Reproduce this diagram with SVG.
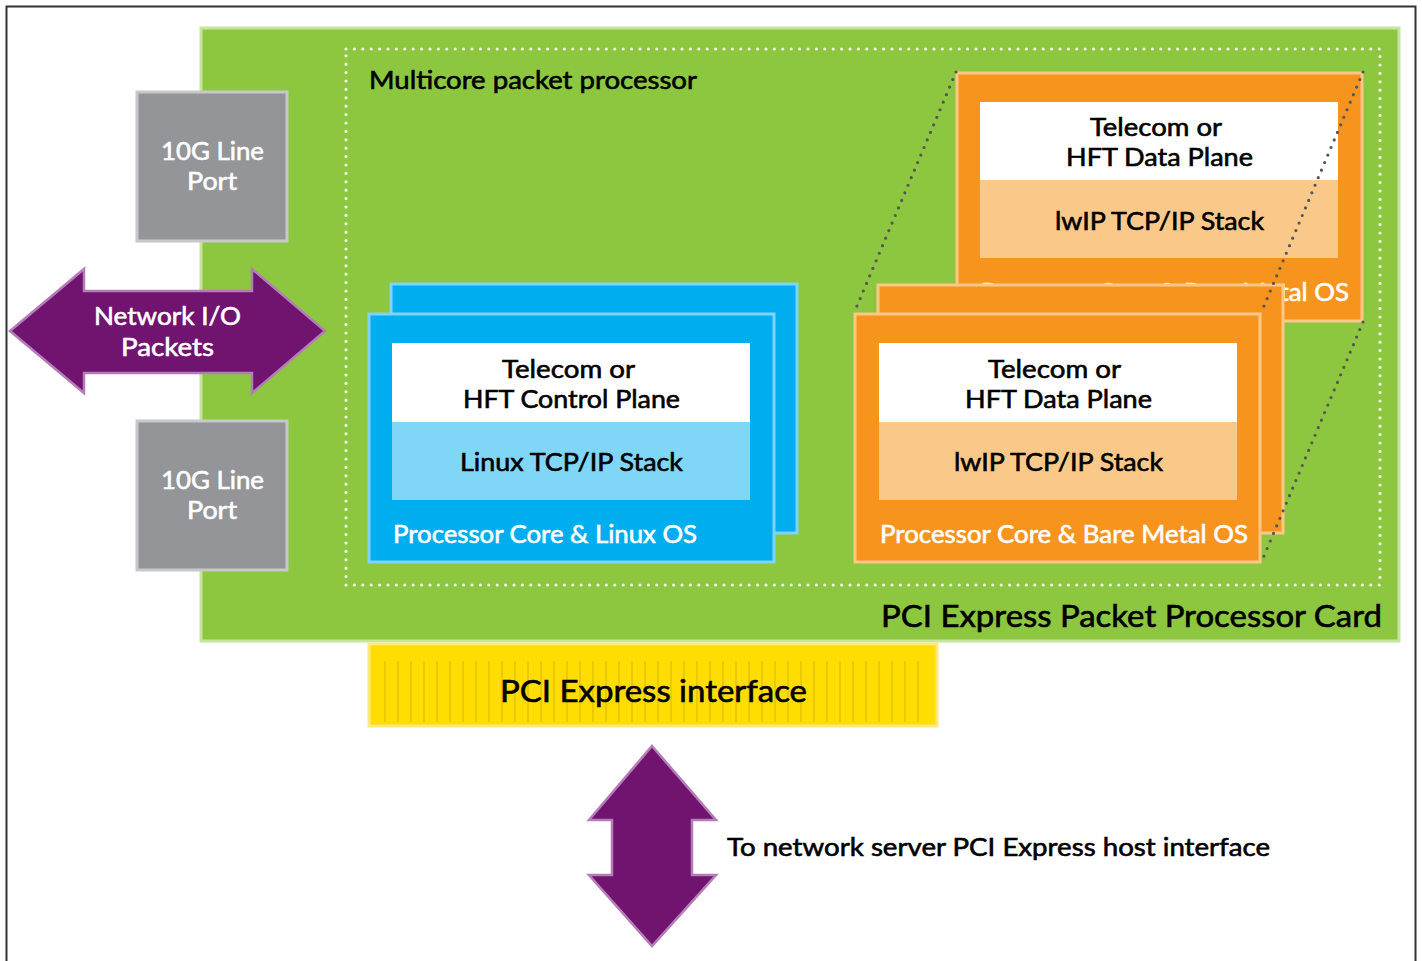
<svg xmlns="http://www.w3.org/2000/svg" width="1422" height="961" viewBox="0 0 1422 961">
<style>
text{font-family:Lato,"Noto Sans","Liberation Sans",sans-serif;font-size:25px;}
.w{fill:#ffffff;stroke:#ffffff;stroke-width:0.6;}
.k{fill:#000000;stroke:#000000;stroke-width:0.6;}
.big{font-size:30px;}
.port{fill:#939598;stroke:#C7C8CA;stroke-width:3;}
.blue{fill:#00AEEF;stroke:#7FD3F7;stroke-width:3;}
.org{fill:#F7941D;stroke:#FDC788;stroke-width:3;}
.arrow{fill:#701470;stroke:#B47DB8;stroke-width:2.5;stroke-linejoin:miter;}
.dots{fill:none;stroke:#55565A;stroke-width:3.2;stroke-linecap:round;stroke-dasharray:0 8.2;}
.wdots{fill:none;stroke:#EEF6E4;stroke-width:3.2;stroke-linecap:round;stroke-dasharray:0 8.4;}
.stripe{stroke:#EBC900;stroke-width:2;}
</style>
<rect x="0" y="0" width="1422" height="961" fill="#ffffff"/>
<path d="M6.5,961 V6.5 H1415.5 V961" fill="none" stroke="#333333" stroke-width="2"/>

<g id="card">
<rect x="201" y="28" width="1198" height="613" fill="#8DC63F" stroke="#C6E3A0" stroke-width="3"/>
<text x="881" y="627" class="k big" textLength="501" lengthAdjust="spacingAndGlyphs">PCI Express Packet Processor Card</text>
</g>

<g id="multicore">
<rect x="346" y="49" width="1034" height="536" class="wdots"/>
<text x="369" y="89" class="k" textLength="328" lengthAdjust="spacingAndGlyphs">Multicore packet processor</text>
</g>

<g id="port1">
<rect x="137" y="92" width="150" height="149" class="port"/>
<text x="161" y="160" class="w" textLength="103" lengthAdjust="spacingAndGlyphs">10G Line</text>
<text x="187" y="190" class="w" textLength="50" lengthAdjust="spacingAndGlyphs">Port</text>
</g>

<g id="port2">
<rect x="137" y="421" width="150" height="149" class="port"/>
<text x="161" y="489" class="w" textLength="103" lengthAdjust="spacingAndGlyphs">10G Line</text>
<text x="187" y="519" class="w" textLength="50" lengthAdjust="spacingAndGlyphs">Port</text>
</g>

<g id="network-io">
<polygon class="arrow" points="10,331 84,269 84,291 252,291 252,269 325,331 252,393 252,373 84,373 84,393"/>
<text x="94" y="325" class="w" textLength="147" lengthAdjust="spacingAndGlyphs">Network I/O</text>
<text x="121" y="356" class="w" textLength="93" lengthAdjust="spacingAndGlyphs">Packets</text>
</g>

<g id="linux-core">
<rect x="391" y="284" width="406" height="249" class="blue"/>
<rect x="369" y="314" width="405" height="248" class="blue"/>
<rect x="392" y="343" width="358" height="79" fill="#ffffff"/>
<rect x="392" y="422" width="358" height="78" fill="#80D6F7"/>
<text x="502" y="378" class="k" textLength="133" lengthAdjust="spacingAndGlyphs">Telecom or</text>
<text x="463" y="408" class="k" textLength="217" lengthAdjust="spacingAndGlyphs">HFT Control Plane</text>
<text x="460" y="471" class="k" textLength="223" lengthAdjust="spacingAndGlyphs">Linux TCP/IP Stack</text>
<text x="393" y="543" class="w" textLength="304" lengthAdjust="spacingAndGlyphs">Processor Core &amp; Linux OS</text>
</g>

<g id="bare-metal-back">
<rect x="957" y="73" width="405" height="248" class="org"/>
<rect x="980" y="102" width="358" height="78" fill="#ffffff"/>
<rect x="980" y="180" width="358" height="78" fill="#FAC98A"/>
<text x="1090" y="136" class="k" textLength="132" lengthAdjust="spacingAndGlyphs">Telecom or</text>
<text x="1066" y="166" class="k" textLength="187" lengthAdjust="spacingAndGlyphs">HFT Data Plane</text>
<text x="1055" y="230" class="k" textLength="209" lengthAdjust="spacingAndGlyphs">lwIP TCP/IP Stack</text>
<text x="981" y="301" class="w" textLength="368" lengthAdjust="spacingAndGlyphs">Processor Core &amp; Bare Metal OS</text>
</g>

<g id="bare-metal-front">
<rect x="878" y="285" width="405" height="248" class="org"/>
<rect x="855" y="314" width="405" height="248" class="org"/>
<rect x="879" y="343" width="358" height="79" fill="#ffffff"/>
<rect x="879" y="422" width="358" height="78" fill="#FAC98A"/>
<text x="988" y="378" class="k" textLength="133" lengthAdjust="spacingAndGlyphs">Telecom or</text>
<text x="965" y="408" class="k" textLength="187" lengthAdjust="spacingAndGlyphs">HFT Data Plane</text>
<text x="954" y="471" class="k" textLength="209" lengthAdjust="spacingAndGlyphs">lwIP TCP/IP Stack</text>
<text x="880" y="543" class="w" textLength="368" lengthAdjust="spacingAndGlyphs">Processor Core &amp; Bare Metal OS</text>
</g>

<g id="connectors">
<line x1="956" y1="72" x2="854" y2="313" class="dots"/>
<line x1="1363" y1="72" x2="1261" y2="313" class="dots"/>
<line x1="1363" y1="322" x2="1261" y2="563" class="dots"/>
</g>

<g id="pci-interface">
<rect x="369" y="644" width="568" height="82" fill="#FFDD00" stroke="#FFE97F" stroke-width="3"/>
<g class="stripe">
<path d="M385,661V722M398,661V722M411,661V722M424,661V722M437,661V722M450,661V722M463,661V722M476,661V722M489,661V722M502,661V722M515,661V722M528,661V722M541,661V722M554,661V722M567,661V722M580,661V722M593,661V722M606,661V722M619,661V722M632,661V722M645,661V722M658,661V722M671,661V722M684,661V722M697,661V722M710,661V722M723,661V722M736,661V722M749,661V722M762,661V722M775,661V722M788,661V722M801,661V722M814,661V722M827,661V722M840,661V722M853,661V722M866,661V722M879,661V722M892,661V722M905,661V722M918,661V722"/>
</g>
<text x="500" y="702" class="k big" textLength="307" lengthAdjust="spacingAndGlyphs">PCI Express interface</text>
</g>

<g id="host-arrow">
<polygon class="arrow" points="652,746 716,820 692,820 692,875 716,875 652,946 589,875 612,875 612,820 589,820"/>
<text x="727" y="856" class="k" textLength="543" lengthAdjust="spacingAndGlyphs">To network server PCI Express host interface</text>
</g>
</svg>
